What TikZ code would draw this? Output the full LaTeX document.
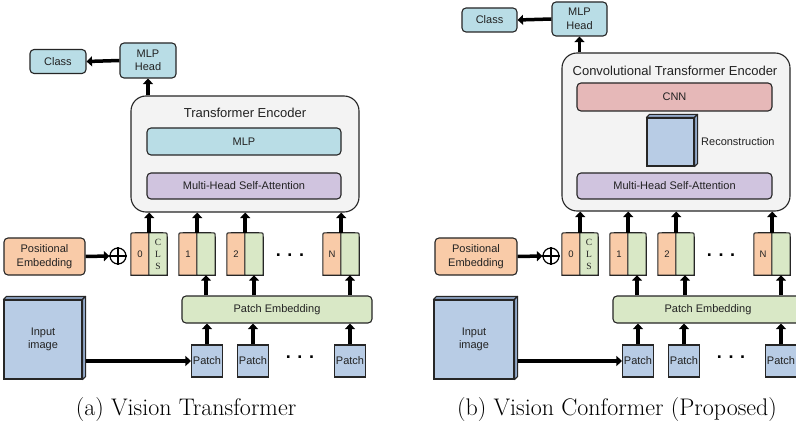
\documentclass[tikz,border=0pt]{standalone}
\usepackage{fontspec}
\newfontfamily\arial{Liberation Sans}
\newfontfamily\tnr{Liberation Serif}
\usetikzlibrary{arrows.meta}
\definecolor{lblue}{HTML}{B9DDE6}
\definecolor{lav}{HTML}{D0C4DF}
\definecolor{encbg}{HTML}{F3F3F3}
\definecolor{orng}{HTML}{F9CBA8}
\definecolor{grn}{HTML}{D9E8C6}
\definecolor{pblue}{HTML}{B8CCE5}
\definecolor{pside}{HTML}{93AACB}
\definecolor{pink}{HTML}{E6B8B8}
\definecolor{linec}{HTML}{262626}
\definecolor{textc}{HTML}{222222}
\pgfdeclarelayer{bg}
\pgfsetlayers{bg,main}
\tikzset{
  box/.style={draw=linec, line width=1.1pt, rounded corners=4pt, inner sep=0pt, align=center, text=textc, font=\arial\fontsize{11}{13.5}\selectfont},
  sq/.style={draw=linec, line width=1.1pt, inner sep=0pt, align=center, text=textc, font=\arial\fontsize{11}{13.5}\selectfont},
  half/.style={inner sep=0pt, minimum width=18pt, minimum height=42pt, text=textc, font=\arial\fontsize{9.5}{10}\selectfont},
  shp/.style={draw=linec, line width=1.1pt},
  arr/.style={line width=3.5pt, draw=black, -{Triangle[length=5.5pt,width=10pt]}},
  encbox/.style={draw=linec, line width=1.1pt, rounded corners=15pt, fill=encbg, inner sep=0pt},
  ttl/.style={text=textc, font=\arial\fontsize{13}{15}\selectfont, inner sep=0pt},
  dotsn/.style={font=\arial\bfseries\fontsize{18}{18}\selectfont, inner sep=0pt, anchor=base},
  plus/.style={circle, draw=black, line width=1.2pt, minimum size=16pt, inner sep=0pt},
  captxt/.style={font=\fontsize{24}{28}\selectfont, inner sep=0pt, anchor=base},
  clsfont/.style={font=\tnr\fontsize{9.5}{12}\selectfont, align=center}
}
\begin{document}
\begin{tikzpicture}[x=1pt,y=-1pt]
\useasboundingbox (0,0) rectangle (796,425);
\begin{pgfonlayer}{bg}
\fill[white] (0,0) rectangle (796,425);
\end{pgfonlayer}
\clip (0,0) rectangle (796,425);

% ================= (a) =================
\node[box, fill=lblue, minimum width=56pt, minimum height=24pt] (clsA) at (58,61.5) {Class};
\node[box, fill=lblue, minimum width=56pt, minimum height=35pt] (mhA) at (148,60.5) {MLP\\Head};
\node[encbox, minimum width=228pt, minimum height=116pt] (encA) at (245,154) {};
\node[ttl] (ttlA) at (245,113) {Transformer Encoder};
\node[box, fill=lblue, minimum width=194pt, minimum height=27pt] (mlpA) at (244,141.5) {MLP};
\node[box, fill=lav, minimum width=194pt, minimum height=26pt] (mhsaA) at (244,186) {Multi-Head Self-Attention};
\node[box, fill=orng, minimum width=81pt, minimum height=37pt] (posA) at (44.5,256.5) {Positional\\Embedding};
\node[plus] (plusA) at (118,256) {};
\draw[line width=1.2pt] (plusA.north) -- (plusA.south) (plusA.west) -- (plusA.east);

\node[half] (aL0) at (140,254) {0};
\node[half, clsfont] (aR0) at (158,254) {C\\L\\S};
\foreach \n/\x/\lab in {1/179/1,2/227/2,3/323/N}{
  \node[half] (aL\n) at (\x+9,254) {\lab};
  \node[half] (aR\n) at (\x+27,254) {};
}
\node[dotsn] (dtA) at (290,256) {. . .};

\node[box, fill=grn, minimum width=190pt, minimum height=27pt] (peA) at (277,309.5) {Patch Embedding};
\node[sq, fill=pblue, minimum width=31pt, minimum height=32pt] (pa1) at (207,361) {Patch};
\node[sq, fill=pblue, minimum width=31pt, minimum height=32pt] (pa2) at (253,361) {Patch};
\node[sq, fill=pblue, minimum width=31pt, minimum height=32pt] (pa3) at (350,361) {Patch};
\node[dotsn] (dpA) at (300,358) {. . .};
\node[sq, fill=pblue, minimum width=78pt, minimum height=79pt] (imgA) at (43,339.5) {Input\\image};

% ================= (b) =================
\node[box, fill=lblue, minimum width=55pt, minimum height=24pt] (clsB) at (489.5,20) {Class};
\node[box, fill=lblue, minimum width=55pt, minimum height=34pt] (mhB) at (579.5,19) {MLP\\Head};
\node[encbox, minimum width=228pt, minimum height=158pt] (encB) at (676,132) {};
\node[ttl] (ttlB) at (675,71) {Convolutional Transformer Encoder};
\node[box, fill=pink, minimum width=195pt, minimum height=28pt] (cnnB) at (674.5,97) {CNN};
\node[sq, fill=pblue, minimum width=47pt, minimum height=48pt] (recB) at (670.5,142) {};
\node[ttl, font=\arial\fontsize{11}{13}\selectfont, anchor=west] (recL) at (701,142) {Reconstruction};
\node[box, fill=lav, minimum width=195pt, minimum height=26pt] (mhsaB) at (674.5,186) {Multi-Head Self-Attention};
\node[box, fill=orng, minimum width=82pt, minimum height=37pt] (posB) at (476,256.5) {Positional\\Embedding};
\node[plus] (plusB) at (551,256) {};
\draw[line width=1.2pt] (plusB.north) -- (plusB.south) (plusB.west) -- (plusB.east);

\node[half] (bL0) at (571,254) {0};
\node[half, clsfont] (bR0) at (589,254) {C\\L\\S};
\foreach \n/\x/\lab in {1/610/1,2/658/2,3/754/N}{
  \node[half] (bL\n) at (\x+9,254) {\lab};
  \node[half] (bR\n) at (\x+27,254) {};
}
\node[dotsn] (dtB) at (721,256) {. . .};

\node[box, fill=grn, minimum width=190pt, minimum height=27pt] (peB) at (708,309.5) {Patch Embedding};
\node[sq, fill=pblue, minimum width=31pt, minimum height=32pt] (pb1) at (638,361) {Patch};
\node[sq, fill=pblue, minimum width=31pt, minimum height=32pt] (pb2) at (684,361) {Patch};
\node[sq, fill=pblue, minimum width=31pt, minimum height=32pt] (pb3) at (781,361) {Patch};
\node[dotsn] (dpB) at (731,358) {. . .};
\node[sq, fill=pblue, minimum width=80pt, minimum height=79pt] (imgB) at (474,339.5) {Input\\image};

% token shapes (background layer, above the white fill)
\begin{pgfonlayer}{bg}
\foreach \p in {a,b}{
  \foreach \n in {0,1,2,3}{
    \draw[shp, fill=orng] (\p L\n.south west) -- ([yshift=-4pt]\p L\n.north west) .. controls (\p L\n.north west) .. ([xshift=4pt]\p L\n.north west) -- (\p L\n.north east) -- (\p L\n.south east) -- cycle;
    \draw[shp, fill=grn] (\p R\n.south west) -- (\p R\n.north west) -- ([xshift=-4pt]\p R\n.north east) .. controls (\p R\n.north east) .. ([yshift=-4pt]\p R\n.north east) -- (\p R\n.south east) -- cycle;
  }
}
\end{pgfonlayer}

% 3D faces
\foreach \b in {imgA,imgB,recB}{
  \draw[shp, fill=pside, line join=round] (\b.north west) -- ++(3pt,3pt) -- ([shift={(3pt,3pt)}]\b.north east) -- (\b.north east) -- cycle;
  \draw[shp, fill=pside, line join=round] (\b.north east) -- ++(3pt,3pt) -- ([shift={(3pt,3pt)}]\b.south east) -- (\b.south east) -- cycle;
}

% connectors (a)
\draw[arr] (mhA.west) -- (clsA.east);
\draw[arr] (mhA.south |- encA.north) -- (mhA.south);
\draw[arr] (posA.east) -- (plusA.west);
\foreach \n in {0,1,2,3}{
  \draw[arr] (aL\n.north east) -- (aL\n.north east |- encA.south);
}
\foreach \n/\q in {1/1,2/2,3/3}{
  \draw[arr] (aR\n.south |- peA.north) -- (aR\n.south);
  \draw[arr] (pa\q.north) -- (pa\q.north |- peA.south);
}
\draw[arr] ([xshift=3pt]pa1.west -| imgA.east) -- (pa1.west);

% connectors (b)
\draw[arr] (mhB.west) -- (clsB.east);
\draw[arr] (mhB.south |- encB.north) -- (mhB.south);
\draw[arr] (posB.east) -- (plusB.west);
\foreach \n in {0,1,2,3}{
  \draw[arr] (bL\n.north east) -- (bL\n.north east |- encB.south);
}
\foreach \n/\q in {1/1,2/2,3/3}{
  \draw[arr] (bR\n.south |- peB.north) -- (bR\n.south);
  \draw[arr] (pb\q.north) -- (pb\q.north |- peB.south);
}
\draw[arr] ([xshift=3pt]pb1.west -| imgB.east) -- (pb1.west);

% captions
\node[captxt] (capA) at (186,415) {(a) Vision Transformer};
\node[captxt] (capB) at (617,415) {(b) Vision Conformer (Proposed)};
\end{tikzpicture}
\end{document}
